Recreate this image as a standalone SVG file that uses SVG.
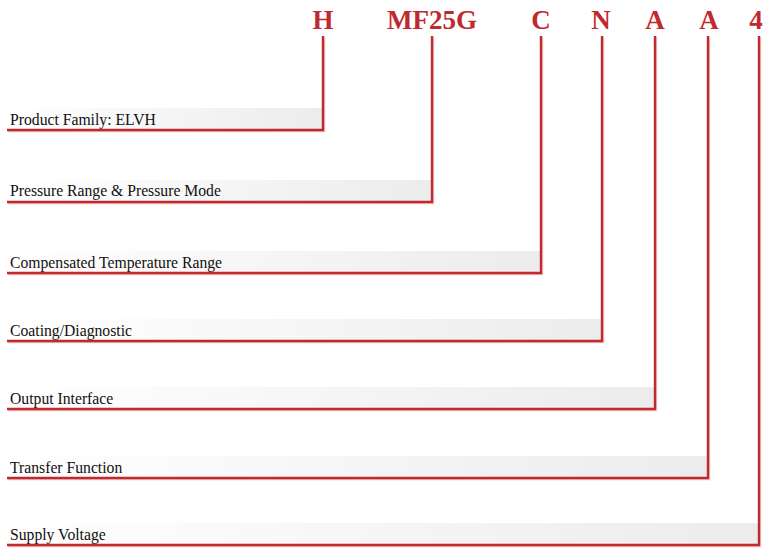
<svg xmlns="http://www.w3.org/2000/svg" width="764" height="548" viewBox="0 0 764 548">
<defs>
<linearGradient id="band" x1="0" y1="0" x2="1" y2="0">
<stop offset="0" stop-color="#ffffff"/>
<stop offset="1" stop-color="#ececec"/>
</linearGradient>
<style>
.code{font-family:"Liberation Serif","Times New Roman",serif;font-weight:bold;font-size:27px;fill:#c0292e;text-anchor:middle}
.lbl{font-family:"Liberation Serif","Times New Roman",serif;font-size:15.7px;fill:#111}
.band{fill:url(#band)}
.conn{fill:none;stroke:#c0292e;stroke-width:2.4}
.shadow{fill:none;stroke:#e8a0a0;stroke-width:1.5;opacity:0.6}
</style>
</defs>
<rect width="764" height="548" fill="#ffffff"/>
<g id="node-family">
<rect class="band" x="7" y="108" width="316" height="22"/>
<text class="lbl" x="10" y="125">Product Family: ELVH</text>
<text class="code" x="323" y="29">H</text>
</g>
<g id="node-pressure">
<rect class="band" x="7" y="180" width="425" height="22"/>
<text class="lbl" x="10" y="196">Pressure Range &amp; Pressure Mode</text>
<text class="code" x="432" y="29">MF25G</text>
</g>
<g id="node-temp">
<rect class="band" x="7" y="251" width="534" height="22"/>
<text class="lbl" x="10" y="268">Compensated Temperature Range</text>
<text class="code" x="541" y="29">C</text>
</g>
<g id="node-coating">
<rect class="band" x="7" y="319" width="595" height="22"/>
<text class="lbl" x="10" y="336">Coating/Diagnostic</text>
<text class="code" x="601" y="29">N</text>
</g>
<g id="node-output">
<rect class="band" x="7" y="387" width="648" height="22"/>
<text class="lbl" x="10" y="404">Output Interface</text>
<text class="code" x="655" y="29">A</text>
</g>
<g id="node-transfer">
<rect class="band" x="7" y="456" width="701" height="22"/>
<text class="lbl" x="10" y="473">Transfer Function</text>
<text class="code" x="709" y="29">A</text>
</g>
<g id="node-supply">
<rect class="band" x="7" y="523" width="752" height="22"/>
<text class="lbl" x="10" y="540">Supply Voltage</text>
<text class="code" x="756" y="29">4</text>
</g>
<g id="connectors">
<polyline class="shadow" points="8,131.5 324.5,131.5 324.5,37"/>
<polyline class="shadow" points="8,203.5 433.5,203.5 433.5,37"/>
<polyline class="shadow" points="8,274.5 542.5,274.5 542.5,37"/>
<polyline class="shadow" points="8,342.5 603.5,342.5 603.5,37"/>
<polyline class="shadow" points="8,410.5 656.5,410.5 656.5,37"/>
<polyline class="shadow" points="8,479.5 709.5,479.5 709.5,37"/>
<polyline class="shadow" points="8,546.5 760.5,546.5 760.5,37"/>
<polyline class="conn" points="7,130 323,130 323,36"/>
<polyline class="conn" points="7,202 432,202 432,36"/>
<polyline class="conn" points="7,273 541,273 541,36"/>
<polyline class="conn" points="7,341 602,341 602,36"/>
<polyline class="conn" points="7,409 655,409 655,36"/>
<polyline class="conn" points="7,478 708,478 708,36"/>
<polyline class="conn" points="7,545 759,545 759,36"/>
</g>
</svg>
